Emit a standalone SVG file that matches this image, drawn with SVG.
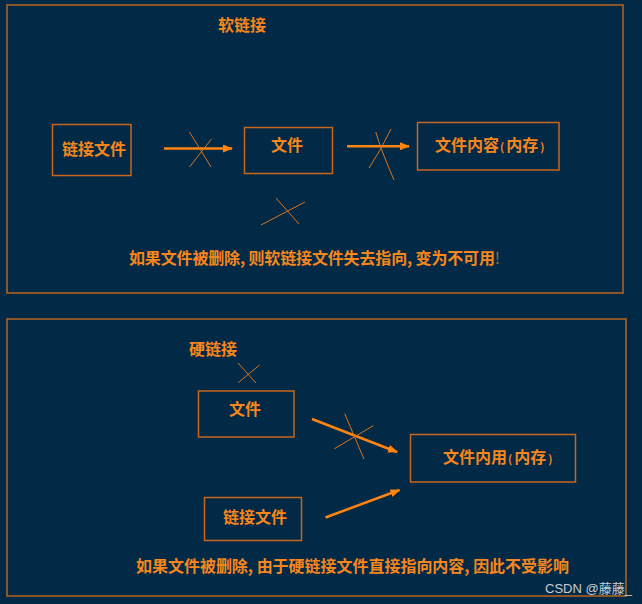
<svg xmlns="http://www.w3.org/2000/svg" width="642" height="604" viewBox="0 0 642 604">
<style>
.bg{fill:#022a47}
.frame{fill:none;stroke:#b8651f;stroke-width:1.5}
.box{fill:none;stroke:#c8661c;stroke-width:1.5}
.t{font-family:"Noto Sans CJK SC","Noto Sans",sans-serif;font-weight:bold;fill:#f7861c;font-size:16px}
.p{font-size:11px}
.arrow{stroke:#ff8410;stroke-width:2.5;fill:none;marker-end:url(#ah)}
.x{stroke:#d8741e;stroke-width:1;fill:none}
.wm{font-family:"Liberation Sans","Noto Sans CJK SC",sans-serif;font-size:13px;fill:#c9cdd3}
</style>
<defs>
<marker id="ah" viewBox="0 0 10 8" refX="9" refY="4" markerWidth="4" markerHeight="3.2" orient="auto" markerUnits="strokeWidth">
<path d="M0,0 L10,4 L0,8 Z" fill="#ff8410"/>
</marker>
</defs>
<rect class="bg" x="0" y="0" width="642" height="604"/>
<rect class="frame" x="7" y="5" width="616" height="288"/>
<rect class="frame" x="7" y="319" width="619" height="277"/>

<g id="title-soft"><text class="t" x="242" y="31" text-anchor="middle">软链接</text></g>
<g id="soft-link-file"><rect class="box" x="52.5" y="124.5" width="78.5" height="51"/><text class="t" x="94" y="155" text-anchor="middle">链接文件</text></g>
<g id="soft-file"><rect class="box" x="244.5" y="127.5" width="88" height="46"/><text class="t" x="287" y="151" text-anchor="middle">文件</text></g>
<g id="soft-content"><rect class="box" x="417.5" y="122.5" width="141.5" height="47.5"/><text class="t" x="435" y="151">文件内容<tspan class="p" dx="1">(</tspan><tspan dx="2">内存</tspan><tspan class="p" dx="2">)</tspan></text></g>
<g id="soft-note"><text class="t" x="129" y="264" textLength="371" lengthAdjust="spacing">如果文件被删除, 则软链接文件失去指向, 变为不可用<tspan font-weight="normal" fill="#a0683a">!</tspan></text></g>

<g id="title-hard"><text class="t" x="189" y="355">硬链接</text></g>
<g id="hard-file"><rect class="box" x="198.5" y="391" width="95.5" height="46"/><text class="t" x="245" y="415" text-anchor="middle">文件</text></g>
<g id="hard-content"><rect class="box" x="410.5" y="434.5" width="165" height="47.5"/><text class="t" x="443" y="463">文件内用<tspan class="p" dx="1">(</tspan><tspan dx="2">内存</tspan><tspan class="p" dx="2">)</tspan></text></g>
<g id="hard-link-file"><rect class="box" x="204.5" y="497.5" width="97" height="43"/><text class="t" x="255" y="523" text-anchor="middle">链接文件</text></g>
<g id="hard-note"><text class="t" x="136" y="572" textLength="433" lengthAdjust="spacingAndGlyphs">如果文件被删除, 由于硬链接文件直接指向内容, 因此不受影响</text></g>
<g id="watermark"><text class="wm" x="545" y="593">CSDN @藤藤_</text></g>

<g id="connectors">
<line class="arrow" x1="164" y1="148.5" x2="232" y2="148.5"/>
<line class="arrow" x1="347" y1="146.3" x2="409" y2="146.3"/>
<line class="arrow" x1="312" y1="419" x2="397" y2="452"/>
<line class="arrow" x1="325.5" y1="517.5" x2="399.5" y2="490"/>
<line class="x" x1="189.5" y1="132" x2="211" y2="167"/>
<line class="x" x1="211.5" y1="139" x2="189.5" y2="167"/>
<path class="x" d="M375.8,132 Q381,150 394,180"/>
<path class="x" d="M391,129 Q381,150 369,168"/>
<line class="x" x1="276" y1="198" x2="299" y2="224"/>
<line class="x" x1="305" y1="202" x2="261" y2="225"/>
<line class="x" x1="238" y1="363" x2="256" y2="383"/>
<line class="x" x1="259.5" y1="365" x2="238.5" y2="382.5"/>
<line class="x" x1="344.7" y1="413.7" x2="364" y2="459"/>
<line class="x" x1="373.3" y1="425.7" x2="334.4" y2="448.7"/>
</g>
</svg>
